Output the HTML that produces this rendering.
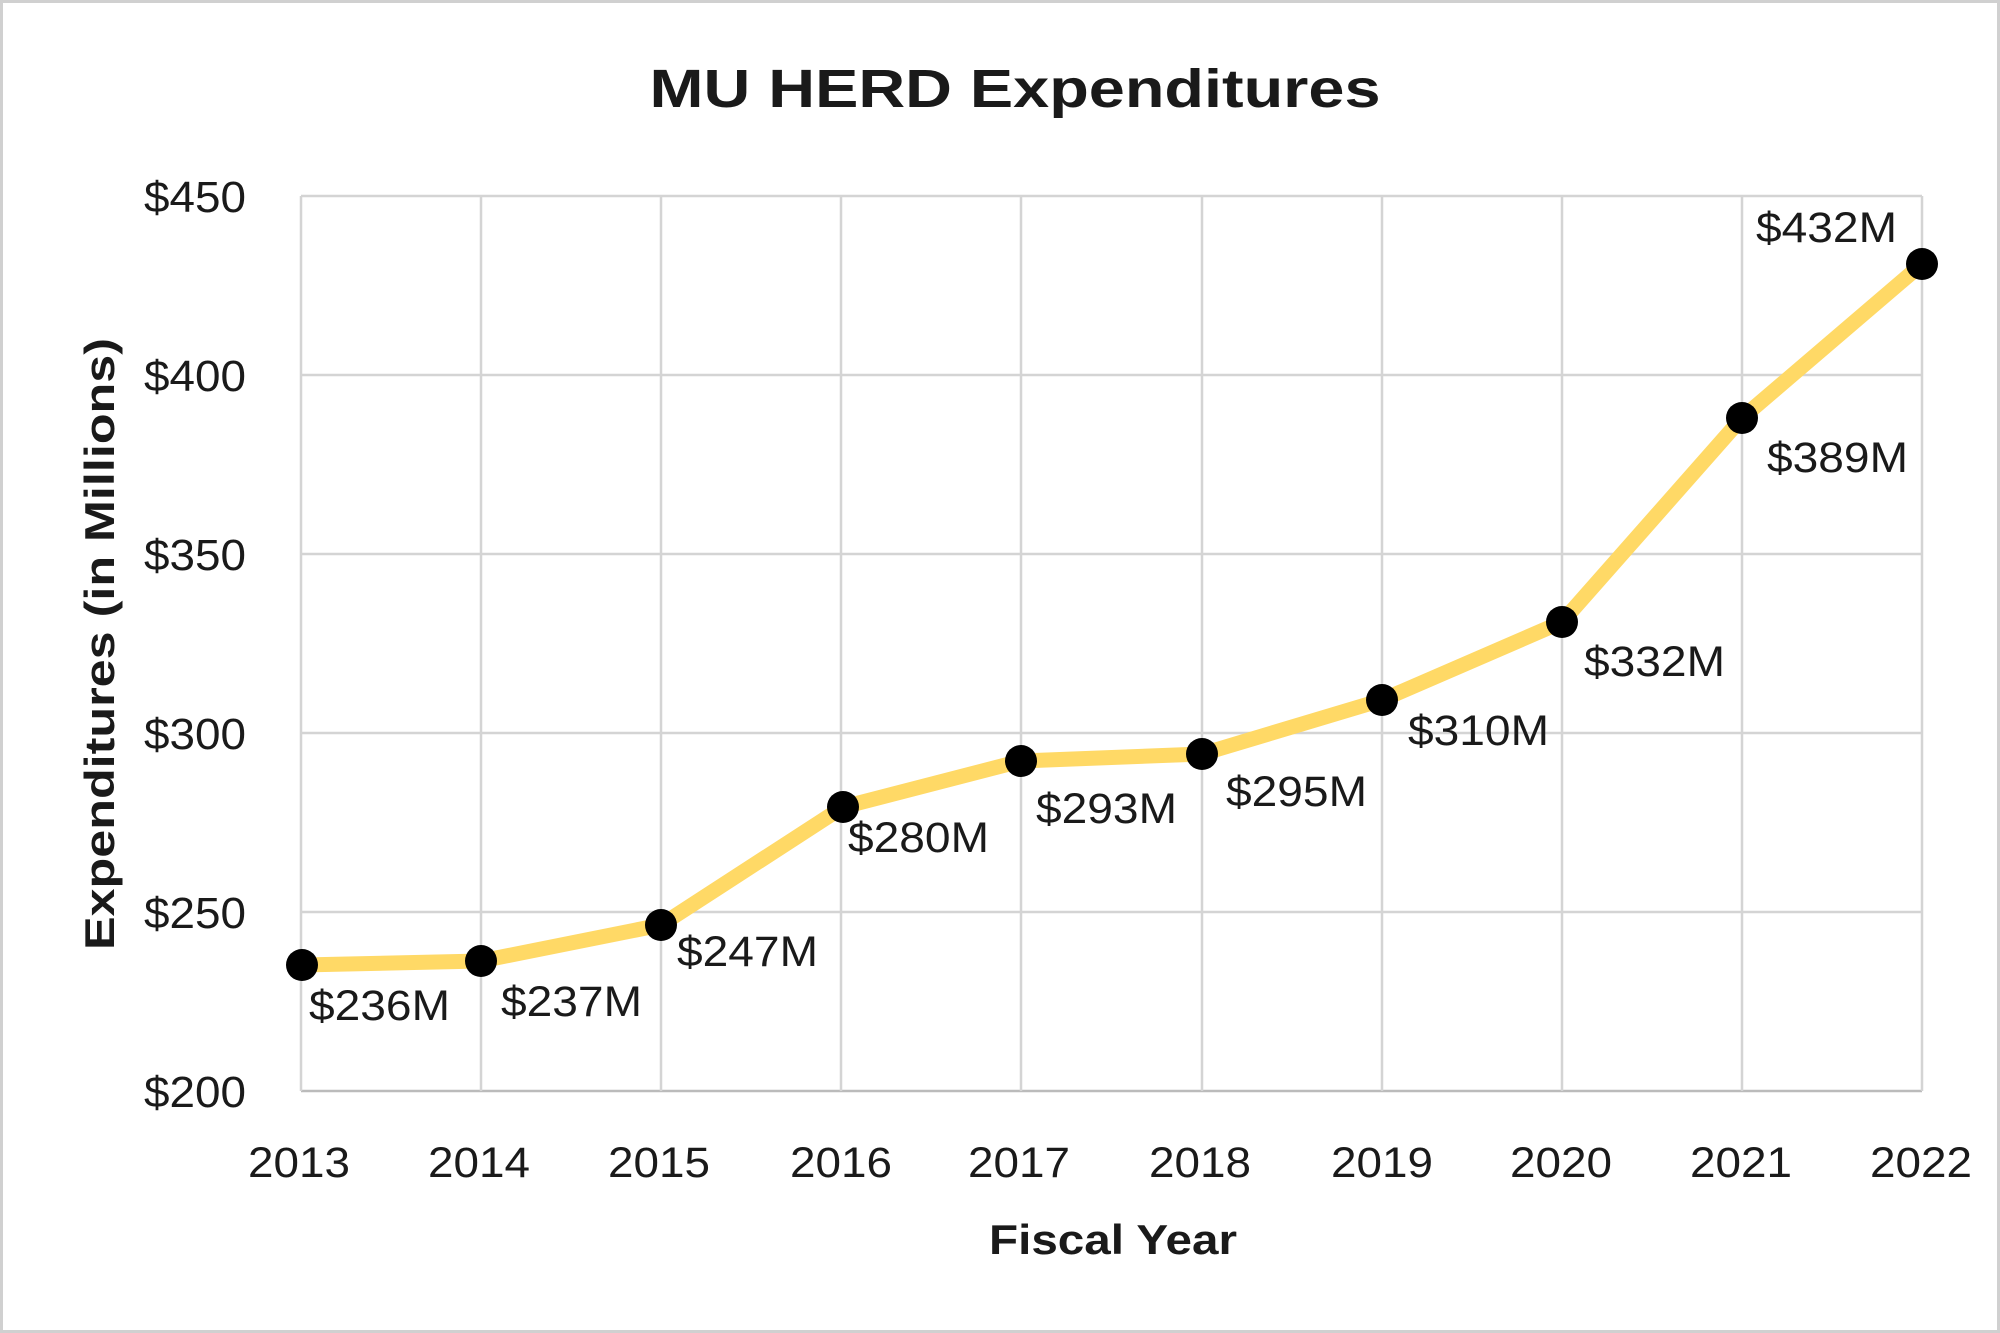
<!DOCTYPE html>
<html><head><meta charset="utf-8"><style>
html,body{margin:0;padding:0;background:#fff;}
svg{display:block;}
text{font-family:"Liberation Sans",sans-serif;fill:#1a1a1a;}
</style></head><body>
<svg width="2000" height="1333" viewBox="0 0 2000 1333" xmlns="http://www.w3.org/2000/svg">
<rect x="1.5" y="1.5" width="1997" height="1330" fill="#fff" stroke="#d0d0d0" stroke-width="3"/>
<text x="1015" y="107" font-size="54" font-weight="bold" text-anchor="middle" textLength="731" lengthAdjust="spacingAndGlyphs" fill="#2a2a2a">MU HERD Expenditures</text>
<g stroke="#d4d4d4" stroke-width="2.5" fill="none">
<line x1="301" y1="196" x2="1922" y2="196"/>
<line x1="301" y1="375" x2="1922" y2="375"/>
<line x1="301" y1="554" x2="1922" y2="554"/>
<line x1="301" y1="733" x2="1922" y2="733"/>
<line x1="301" y1="912" x2="1922" y2="912"/>
<line x1="301" y1="1091" x2="1922" y2="1091" stroke="#bbb"/>
<line x1="301" y1="196" x2="301" y2="1091"/>
<line x1="481" y1="196" x2="481" y2="1091"/>
<line x1="661" y1="196" x2="661" y2="1091"/>
<line x1="841" y1="196" x2="841" y2="1091"/>
<line x1="1021" y1="196" x2="1021" y2="1091"/>
<line x1="1202" y1="196" x2="1202" y2="1091"/>
<line x1="1382" y1="196" x2="1382" y2="1091"/>
<line x1="1562" y1="196" x2="1562" y2="1091"/>
<line x1="1742" y1="196" x2="1742" y2="1091"/>
<line x1="1922" y1="196" x2="1922" y2="1091"/>
</g>
<g font-size="44" text-anchor="end">
<text x="246" y="212" textLength="102" lengthAdjust="spacingAndGlyphs">$450</text>
<text x="246" y="391" textLength="102" lengthAdjust="spacingAndGlyphs">$400</text>
<text x="246" y="570" textLength="102" lengthAdjust="spacingAndGlyphs">$350</text>
<text x="246" y="749" textLength="102" lengthAdjust="spacingAndGlyphs">$300</text>
<text x="246" y="928" textLength="102" lengthAdjust="spacingAndGlyphs">$250</text>
<text x="246" y="1107" textLength="102" lengthAdjust="spacingAndGlyphs">$200</text>
</g>
<g font-size="43" text-anchor="middle">
<text x="299" y="1177" textLength="102" lengthAdjust="spacingAndGlyphs">2013</text><text x="479" y="1177" textLength="102" lengthAdjust="spacingAndGlyphs">2014</text><text x="659" y="1177" textLength="102" lengthAdjust="spacingAndGlyphs">2015</text>
<text x="841" y="1177" textLength="102" lengthAdjust="spacingAndGlyphs">2016</text><text x="1019" y="1177" textLength="102" lengthAdjust="spacingAndGlyphs">2017</text><text x="1200" y="1177" textLength="102" lengthAdjust="spacingAndGlyphs">2018</text>
<text x="1382" y="1177" textLength="102" lengthAdjust="spacingAndGlyphs">2019</text><text x="1561" y="1177" textLength="102" lengthAdjust="spacingAndGlyphs">2020</text><text x="1741" y="1177" textLength="102" lengthAdjust="spacingAndGlyphs">2021</text>
<text x="1921" y="1177" textLength="102" lengthAdjust="spacingAndGlyphs">2022</text>
</g>
<text x="1113" y="1254" font-size="42" font-weight="bold" text-anchor="middle" textLength="248" lengthAdjust="spacingAndGlyphs" fill="#2a2a2a">Fiscal Year</text>
<text transform="translate(114,644) rotate(-90)" font-size="42" font-weight="bold" text-anchor="middle" textLength="612" lengthAdjust="spacingAndGlyphs" fill="#2a2a2a">Expenditures (in Millions)</text>
<polyline fill="none" stroke="#FFD966" stroke-width="15" stroke-linejoin="round" stroke-linecap="round"
points="302,965 481,961 661,925 843,807 1021,761 1202,754 1382,700 1562,622 1742,418 1922,264"/>
<g fill="#000">
<circle cx="302" cy="965" r="16"/><circle cx="481" cy="961" r="16"/><circle cx="661" cy="925" r="16"/>
<circle cx="843" cy="807" r="16"/><circle cx="1021" cy="761" r="16"/><circle cx="1202" cy="754" r="16"/>
<circle cx="1382" cy="700" r="16"/><circle cx="1562" cy="622" r="16"/><circle cx="1742" cy="418" r="16"/>
<circle cx="1922" cy="264" r="16"/>
</g>
<g font-size="43">
<text x="309" y="1020" textLength="141" lengthAdjust="spacingAndGlyphs">$236M</text>
<text x="501" y="1016" textLength="141" lengthAdjust="spacingAndGlyphs">$237M</text>
<text x="677" y="966" textLength="141" lengthAdjust="spacingAndGlyphs">$247M</text>
<text x="848" y="852" textLength="141" lengthAdjust="spacingAndGlyphs">$280M</text>
<text x="1036" y="823" textLength="141" lengthAdjust="spacingAndGlyphs">$293M</text>
<text x="1226" y="806" textLength="141" lengthAdjust="spacingAndGlyphs">$295M</text>
<text x="1408" y="745" textLength="141" lengthAdjust="spacingAndGlyphs">$310M</text>
<text x="1584" y="676" textLength="141" lengthAdjust="spacingAndGlyphs">$332M</text>
<text x="1767" y="472" textLength="141" lengthAdjust="spacingAndGlyphs">$389M</text>
<text x="1756" y="242" textLength="141" lengthAdjust="spacingAndGlyphs">$432M</text>
</g>
</svg>
</body></html>
